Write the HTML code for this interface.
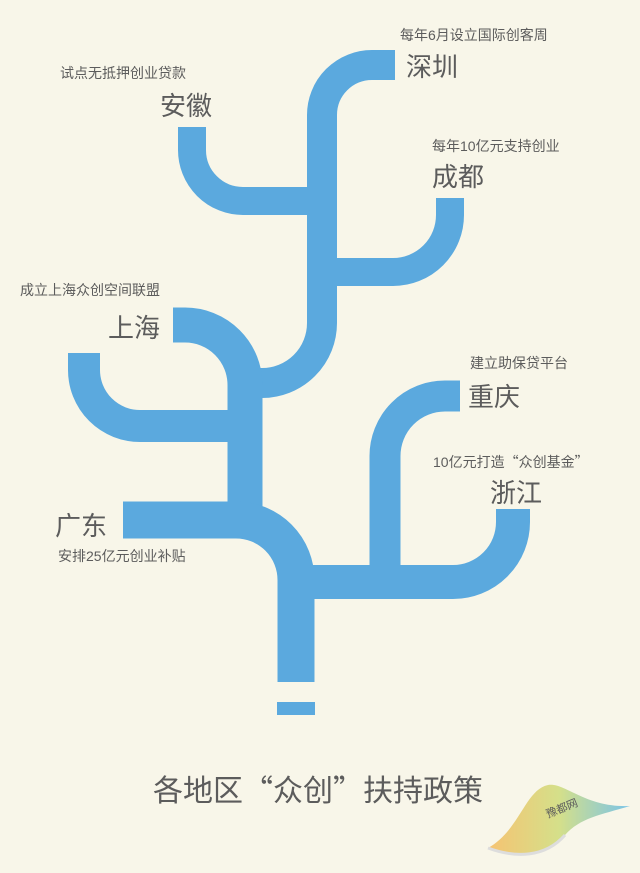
<!DOCTYPE html>
<html><head><meta charset="utf-8"><style>
html,body{margin:0;padding:0;background:#f8f6e9;}
svg{display:block}
text{font-family:"Liberation Sans","Noto Sans CJK SC",sans-serif;fill:#5c5c5c}
.cjk{font-family:"Noto Sans CJK SC",sans-serif}
</style></head><body>
<svg width="640" height="873" viewBox="0 0 640 873" xmlns="http://www.w3.org/2000/svg">
<defs>
<linearGradient id="wg" x1="0" y1="0" x2="1" y2="0">
<stop offset="0" stop-color="#f5b24a"/><stop offset="0.5" stop-color="#c9d86a"/><stop offset="1" stop-color="#4fb3e8"/>
</linearGradient>
</defs>
<rect width="640" height="873" fill="#f8f6e9"/>
<g fill="none" stroke="#5ba9de" stroke-width="30" stroke-linecap="butt">
<path d="M395,65 L372,65 A50,50 0 0 0 322,115 L322,323 A60,60 0 0 1 262,383 L245,383"/>
<path d="M192,127 L192,150 A51,51 0 0 0 243,201 L322,201" stroke-width="28"/>
<path d="M450,198 L450,215 A57,57 0 0 1 393,272 L322,272" stroke-width="28"/>
<path d="M173,325 L185,325 A60,60 0 0 1 245,385 L245,525" stroke-width="35"/>
<path d="M84,353 L84,370 A56,56 0 0 0 140,426 L245,426" stroke-width="32"/>
<path d="M123,520 L236,520 A60,60 0 0 1 296,580 L296,682" stroke-width="37"/>
<path d="M296,582 L453,582 A60,60 0 0 0 513,522 L513,509" stroke-width="34"/>
<path d="M385,582 L385,456 A60,60 0 0 1 445,396 L460,396" stroke-width="31"/>
</g>
<rect x="277" y="702" width="38" height="13" fill="#5ba9de"/>

<text x="400" y="40" font-size="14">每年6月设立国际创客周</text>
<text x="406" y="76" font-size="26">深圳</text>
<text x="60" y="78" font-size="14">试点无抵押创业贷款</text>
<text x="160" y="115" font-size="26">安徽</text>
<text x="432" y="151" font-size="14">每年10亿元支持创业</text>
<text x="432" y="186" font-size="26">成都</text>
<text x="20" y="295" font-size="14">成立上海众创空间联盟</text>
<text x="108" y="337" font-size="26">上海</text>
<text x="470" y="368" font-size="14">建立助保贷平台</text>
<text x="468" y="406" font-size="26">重庆</text>
<text x="433" y="467" font-size="14">10亿元打造<tspan class="cjk">“</tspan>众创基金<tspan class="cjk">”</tspan></text>
<text x="490" y="502" font-size="26">浙江</text>
<text x="55" y="535" font-size="26">广东</text>
<text x="58" y="561" font-size="14">安排25亿元创业补贴</text>
<text x="153" y="801" font-size="30" fill="#666" class="cjk" textLength="330" lengthAdjust="spacing">各地区“众创”扶持政策</text>
<path d="M488,848 C520,830 525,790 548,785 C565,782 585,808 630,806 C600,815 580,818 565,835 C545,858 515,860 488,848 Z" fill="url(#wg)" opacity="0.75"/>
<path d="M488,848 C515,858 545,858 565,835" fill="none" stroke="#ddd" stroke-width="3"/>
<text x="548" y="818" font-size="11" fill="#fff" transform="rotate(-22 548 818)">豫都网</text>
</svg>
</body></html>
